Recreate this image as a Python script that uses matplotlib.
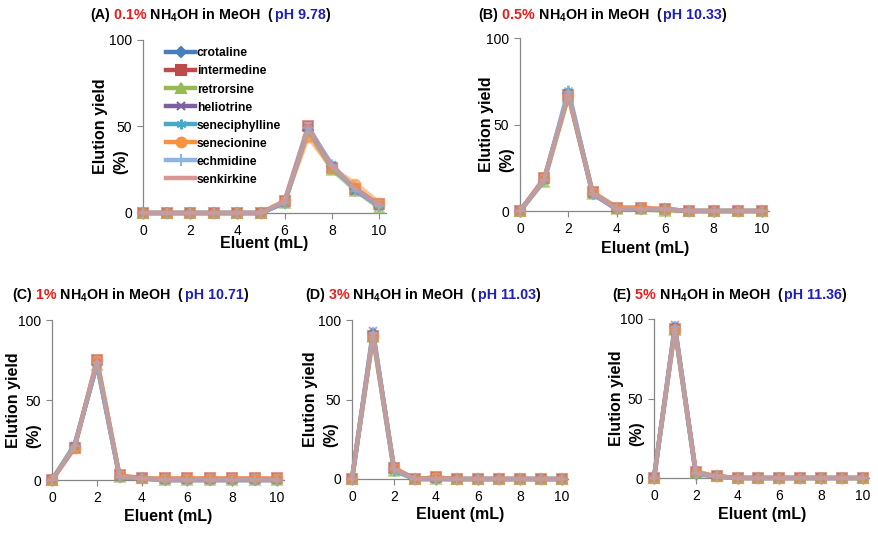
import matplotlib
matplotlib.use("Agg")
import matplotlib.pyplot as plt

plt.rcParams['font.family'] = ['Liberation Sans', 'DejaVu Sans']
plt.rcParams['mathtext.fontset'] = 'custom'
plt.rcParams['mathtext.rm'] = 'Liberation Sans'
plt.rcParams['mathtext.bf'] = 'Liberation Sans:bold'

eluent = [0, 1, 2, 3, 4, 5, 6, 7, 8, 9, 10]
compounds = ['crotaline', 'intermedine', 'retrorsine', 'heliotrine',
             'seneciphylline', 'senecionine', 'echmidine', 'senkirkine']

# elution yield (%) per panel, one row per compound
yield_a = [
    [0, 0, 0, 0, 0, 0, 6, 48, 27, 14, 4],
    [0, 0, 0, 0, 0, 0, 7, 50, 26, 14, 5],
    [0, 0, 0, 0, 0, 0, 6, 47, 25, 13, 3],
    [0, 0, 0, 0, 0, 0, 6, 49, 28, 13, 4],
    [0, 0, 0, 0, 0, 0, 6, 48, 26, 14, 4],
    [0, 0, 0, 0, 0, 0, 7, 44, 26, 17, 6],
    [0, 0, 0, 0, 0, 0, 6, 49, 28, 13, 4],
    [0, 0, 0, 0, 0, 0, 7, 50, 27, 14, 5],
]
yield_b = [
    [0, 18, 68, 10, 1, 1, 1, 0, 0, 0, 0],
    [0, 19, 67, 11, 2, 2, 1, 0, 0, 0, 0],
    [0, 17, 66, 10, 1, 1, 0, 0, 0, 0, 0],
    [0, 18, 68, 10, 1, 1, 1, 0, 0, 0, 0],
    [0, 18, 70, 10, 1, 1, 1, 0, 0, 0, 0],
    [0, 19, 67, 11, 2, 2, 1, 0, 0, 0, 0],
    [0, 18, 69, 10, 1, 1, 1, 0, 0, 0, 0],
    [0, 18, 67, 10, 1, 1, 1, 0, 0, 0, 0],
]
yield_c = [
    [0, 21, 73, 2, 1, 0, 0, 0, 0, 0, 0],
    [0, 20, 75, 3, 1, 1, 1, 1, 1, 1, 1],
    [0, 22, 72, 2, 1, 0, 0, 0, 0, 0, 0],
    [0, 21, 73, 2, 1, 0, 0, 0, 0, 0, 0],
    [0, 22, 72, 2, 1, 0, 0, 0, 0, 0, 0],
    [0, 20, 75, 3, 1, 1, 1, 1, 1, 1, 1],
    [0, 21, 73, 2, 1, 0, 0, 0, 0, 0, 0],
    [0, 21, 74, 2, 1, 0, 0, 0, 0, 0, 0],
]
yield_d = [
    [0, 92, 6, 0, 0, 0, 0, 0, 0, 0, 0],
    [0, 90, 7, 0, 1, 0, 0, 0, 0, 0, 0],
    [0, 89, 5, 0, 0, 0, 0, 0, 0, 0, 0],
    [0, 93, 6, 0, 0, 0, 0, 0, 0, 0, 0],
    [0, 91, 5, 0, 0, 0, 0, 0, 0, 0, 0],
    [0, 90, 7, 0, 1, 0, 0, 0, 0, 0, 0],
    [0, 92, 6, 0, 0, 0, 0, 0, 0, 0, 0],
    [0, 91, 6, 0, 0, 0, 0, 0, 0, 0, 0],
]
yield_e = [
    [0, 95, 3, 1, 0, 0, 0, 0, 0, 0, 0],
    [0, 94, 4, 1, 0, 0, 0, 0, 0, 0, 0],
    [0, 93, 3, 1, 0, 0, 0, 0, 0, 0, 0],
    [0, 96, 3, 1, 0, 0, 0, 0, 0, 0, 0],
    [0, 94, 2, 1, 0, 0, 0, 0, 0, 0, 0],
    [0, 94, 4, 1, 0, 0, 0, 0, 0, 0, 0],
    [0, 95, 3, 1, 0, 0, 0, 0, 0, 0, 0],
    [0, 94, 3, 1, 0, 0, 0, 0, 0, 0, 0],
]

letters = ['(A)', '(B)', '(C)', '(D)', '(E)']
conc = ['0.1%', '0.5%', '1%', '3%', '5%']
ph = ['pH 9.78', 'pH 10.33', 'pH 10.71', 'pH 11.03', 'pH 11.36']
panels = [yield_a, yield_b, yield_c, yield_d, yield_e]

colors = ['#4A7EBB', '#BE4B48', '#98B954', '#7D60A0',
          '#46AAC5', '#F69240', '#8EB4E3', '#D99694']
markers = ['D', 's', '^', 'x', (6, 2, 0), 'o', '+', '_']
msizes = [5.5, 7, 7, 6, 7, 7, 8, 6]

W, H = 879, 533
fig = plt.figure(figsize=(W / 100, H / 100), dpi=100)

# pixel boxes: x of 0, x of 10, y of 0, y of 100
boxes = [
    (143, 379, 213, 40),
    (520, 762, 211, 38),
    (52, 277, 480, 320),
    (352, 562, 479, 320),
    (654, 863, 478, 319),
]
title_pos = [(90, 15), (478, 15), (12, 295), (305, 295), (612, 295)]
xlabel_y = [244, 248, 516, 514, 515]
ylabel_x = [111, 497, 24, 321, 627]

renderer = fig.canvas.get_renderer()


def colored_title(x, y, pieces):
    for s, c in pieces:
        t = fig.text(x / W, 1 - y / H, s, color=c, fontsize=10.3,
                     fontweight='bold', va='center', ha='left')
        x += t.get_window_extent(renderer).width


for i, data in enumerate(panels):
    x0, x10, yb, yt = boxes[i]
    unit = (x10 - x0) / 10.0
    xmax = 10.3
    aw = unit * xmax
    ah = yb - yt
    ax = fig.add_axes([x0 / W, 1 - yb / H, aw / W, ah / H])
    for j, name in enumerate(compounds):
        ax.plot(eluent, data[j], color=colors[j], lw=3.2, alpha=0.55,
                marker=markers[j], ms=msizes[j], mew=1.5,
                mfc=colors[j], mec=colors[j], label=name, clip_on=False,
                zorder=3)
    ax.set_xlim(0, xmax)
    ax.set_ylim(0, 100)
    ax.set_xticks([0, 2, 4, 6, 8, 10])
    ax.set_yticks([0, 50, 100])
    for side in ['top', 'right']:
        ax.spines[side].set_visible(False)
    for side in ['left', 'bottom']:
        ax.spines[side].set_color('#868686')
        ax.spines[side].set_linewidth(0.9)
    ax.tick_params(direction='out', length=4, width=0.8, color='#868686',
                   labelsize=10, pad=4)
    ax.tick_params(axis='x', pad=4)
    ax.set_xlabel('Eluent (mL)', fontsize=11.5, fontweight='bold',
                  va='center')
    ax.xaxis.set_label_coords(0.5, -(xlabel_y[i] - yb) / ah)
    ax.set_ylabel('Elution yield\n(%)', fontsize=11.5, fontweight='bold',
                  multialignment='left', linespacing=1.45,
                  va='center', ha='center')
    ax.yaxis.set_label_coords(-(x0 - ylabel_x[i]) / aw, 0.5)
    colored_title(title_pos[i][0], title_pos[i][1], [
        (letters[i], 'black'),
        (' ' + conc[i], '#E0201E'),
        (r' NH$_\mathbf{4}$OH in MeOH  (', 'black'),
        (ph[i], '#1F1FB8'),
        (')', 'black'),
    ])
    if i == 0:
        leg = ax.legend(loc='upper left', bbox_to_anchor=(0.075, 0.985),
                        frameon=False, numpoints=1, handlelength=2.4,
                        handletextpad=0.15, labelspacing=0.5,
                        borderaxespad=0.0,
                        prop={'size': 8.7, 'weight': 'bold'})
        for lh in leg.legend_handles:
            lh.set_alpha(1.0)

fig.savefig('out.png', dpi=100)
